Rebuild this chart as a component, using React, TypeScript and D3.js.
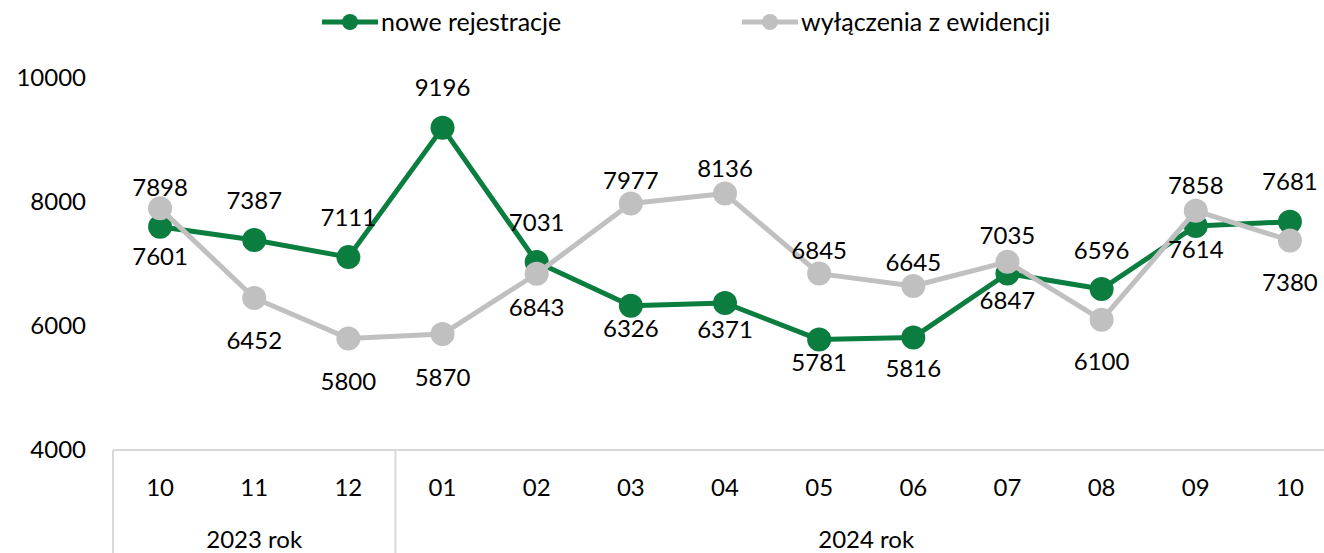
import React from "react";
import * as d3 from "d3";

const months = ["10", "11", "12", "01", "02", "03", "04", "05", "06", "07", "08", "09", "10"];
const years = [
  { label: "2023 rok", from: 0, to: 2 },
  { label: "2024 rok", from: 3, to: 12 },
];
const nowe = [7601, 7387, 7111, 9196, 7031, 6326, 6371, 5781, 5816, 6847, 6596, 7614, 7681];
const wylaczenia = [7898, 6452, 5800, 5870, 6843, 7977, 8136, 6845, 6645, 7035, 6100, 7858, 7380];
// label offset from the marker in px (negative = above, positive = below)
const noweLabelOffset = [30, -39, -40, -40, -39, 23, 27, 23, 31, 27, -38, 24, -40];
const wylLabelOffset = [-21, 43, 43, 44, 34, -23, -25, -23, -23, -26, 42, -25, 42];
const yTicks = [4000, 6000, 8000, 10000];

const W = 1324;
const H = 553;
const FONT = "Lato, 'Open Sans', sans-serif";
const GREEN = "#0a7d3f";
const GRAY = "#c0c0c0";
const AXIS = "#d9d9d9";

export default function App() {
  const x = d3.scaleBand<number>().domain(d3.range(months.length)).range([113, 1337]);
  const y = d3.scaleLinear().domain([4000, 10000]).range([450, 78]);
  const cx = (i: number) => (x(i) as number) + x.bandwidth() / 2;
  const line = d3
    .line<number>()
    .x((_, i) => cx(i))
    .y((d) => y(d));

  const series = [
    { name: "nowe rejestracje", data: nowe, off: noweLabelOffset, color: GREEN },
    { name: "wyłączenia z ewidencji", data: wylaczenia, off: wylLabelOffset, color: GRAY },
  ];
  const legendX = [322, 742];

  return (
    <svg width={W} height={H} style={{ position: "absolute", left: 0, top: 0 }} fontFamily={FONT}>
      <rect width={W} height={H} fill="#fff" />
      {series.map((s, k) => (
        <g key={s.name} transform={`translate(${legendX[k]},22)`}>
          <line x1={0} x2={56} y1={0} y2={0} stroke={s.color} strokeWidth={5} />
          <circle cx={28} cy={0} r={8} fill={s.color} />
          <text x={59} y={0} dy="0.35em" fontSize={25} fill="#000">
            {s.name}
          </text>
        </g>
      ))}
      {yTicks.map((t) => (
        <text key={t} x={86} y={y(t)} dy="0.35em" textAnchor="end" fontSize={24} fill="#000">
          {t}
        </text>
      ))}
      <line x1={113} x2={1337} y1={450} y2={450} stroke={AXIS} strokeWidth={2} />
      {[0, 3, 13].map((i) => {
        const xx = i < months.length ? (x(i) as number) : 1337;
        return <line key={i} x1={xx} x2={xx} y1={450} y2={H} stroke={AXIS} strokeWidth={2} />;
      })}
      {months.map((m, i) => (
        <text key={i} x={cx(i)} y={488} dy="0.35em" textAnchor="middle" fontSize={24} fill="#000">
          {m}
        </text>
      ))}
      {years.map((yr) => (
        <text
          key={yr.label}
          x={((x(yr.from) as number) + (x(yr.to) as number) + x.bandwidth()) / 2}
          y={540}
          dy="0.35em"
          textAnchor="middle"
          fontSize={24}
          fill="#000"
        >
          {yr.label}
        </text>
      ))}
      {series.map((s) => (
        <g key={s.name}>
          <path d={line(s.data) || ""} fill="none" stroke={s.color} strokeWidth={5} strokeLinejoin="round" />
          {s.data.map((v, i) => (
            <circle key={i} cx={cx(i)} cy={y(v)} r={12} fill={s.color} />
          ))}
        </g>
      ))}
      {series.map((s) =>
        s.data.map((v, i) => (
          <text
            key={s.name + i}
            x={cx(i)}
            y={y(v) + s.off[i]}
            dy="0.35em"
            textAnchor="middle"
            fontSize={24}
            fill="#000"
          >
            {v}
          </text>
        ))
      )}
    </svg>
  );
}
